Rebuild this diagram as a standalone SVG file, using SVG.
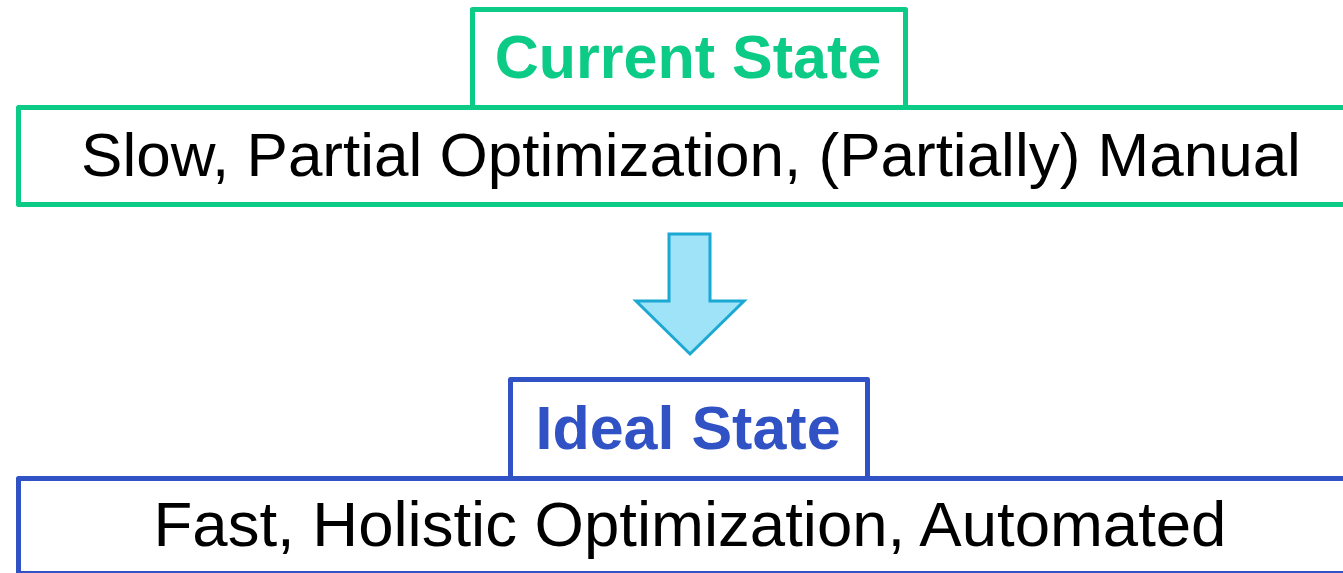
<svg xmlns="http://www.w3.org/2000/svg" width="1343" height="573" viewBox="0 0 1343 573">
<style>
.green{fill:none;stroke:#0CCB86;stroke-width:5;stroke-linejoin:round}
.blue{fill:none;stroke:#3052C4;stroke-width:5;stroke-linejoin:round}
.title{font-family:"Liberation Sans",Arial,sans-serif;font-weight:bold;font-size:61px;text-anchor:middle}
.body{font-family:"Liberation Sans",Arial,sans-serif;font-size:62px;text-anchor:middle;fill:#000}
</style>
<rect width="1343" height="573" fill="#fff"/>
<g id="current-state">
<rect class="green" x="472.5" y="9.5" width="433" height="98"/>
<rect x="18.5" y="107.5" width="1340" height="97" fill="#fff" class="green"/>
<text class="title" x="688" y="78" fill="#0CCB86">Current State</text>
<text class="body" x="691" y="176">Slow, Partial Optimization, (Partially) Manual</text>
</g>
<g id="connectors">
<path d="M669,234 H710 V301 H744 L690,354 L636,301 H669 Z" fill="#9EE3F7" stroke="#1BA8D3" stroke-width="3" stroke-linejoin="miter"/>
</g>
<g id="ideal-state">
<rect class="blue" x="510.5" y="379.5" width="357" height="99"/>
<rect x="18.5" y="478.5" width="1340" height="95" fill="#fff" class="blue"/>
<text class="title" x="688" y="449" fill="#3052C4">Ideal State</text>
<text class="body" x="690" y="546" style="font-size:63.5px">Fast, Holistic Optimization, Automated</text>
</g>
</svg>
